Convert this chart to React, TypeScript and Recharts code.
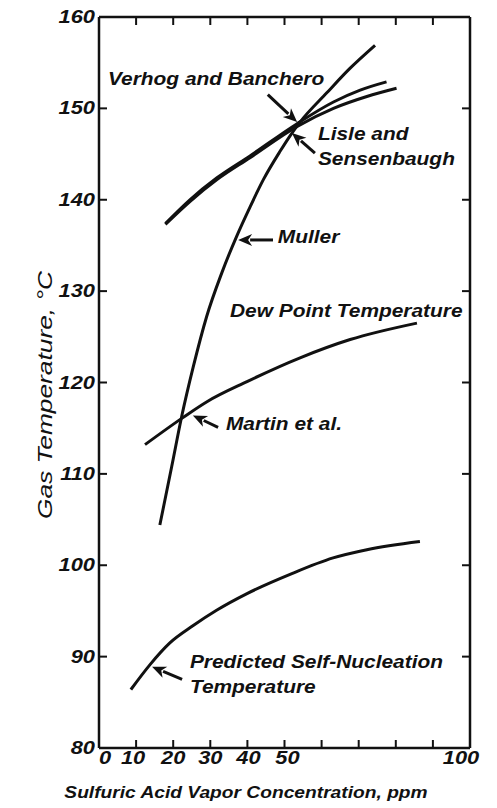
import { LineChart, Line, XAxis, YAxis, ReferenceLine, ReferenceDot } from 'recharts';

// curve points: x = ppm, y = deg C
const selfNucleation = [
  { x: 8.6, y: 86.4 }, { x: 13.7, y: 89.1 }, { x: 19.1, y: 91.5 }, { x: 25.4, y: 93.4 },
  { x: 31.8, y: 95.1 }, { x: 39.9, y: 96.9 }, { x: 51.5, y: 99.0 }, { x: 63.1, y: 100.8 },
  { x: 72.2, y: 101.7 }, { x: 86.5, y: 102.6 },
];
const dewPoint = [
  { x: 12.4, y: 113.2 }, { x: 22.4, y: 116.1 }, { x: 29.1, y: 117.9 }, { x: 39.9, y: 120.1 },
  { x: 54.2, y: 122.7 }, { x: 67.7, y: 124.7 }, { x: 85.7, y: 126.5 },
];
const muller = [
  { x: 16.4, y: 104.4 }, { x: 19.6, y: 110.8 }, { x: 22.3, y: 116.3 }, { x: 25.4, y: 121.7 },
  { x: 29.0, y: 127.2 }, { x: 33.1, y: 132.0 }, { x: 37.1, y: 136.0 }, { x: 40.7, y: 139.2 },
  { x: 44.3, y: 142.2 }, { x: 48.8, y: 145.3 }, { x: 51.5, y: 147.0 }, { x: 54.2, y: 148.5 },
  { x: 61.4, y: 151.7 }, { x: 67.7, y: 154.4 }, { x: 74.4, y: 156.9 },
];
const verhog = [
  { x: 17.9, y: 137.4 }, { x: 24.5, y: 140.0 }, { x: 31.8, y: 142.4 }, { x: 40.7, y: 144.8 },
  { x: 53.3, y: 148.3 }, { x: 63.2, y: 150.7 }, { x: 70.4, y: 152.0 }, { x: 77.5, y: 152.9 },
];
const lisle = [
  { x: 17.9, y: 137.3 }, { x: 24.5, y: 139.8 }, { x: 31.8, y: 142.2 }, { x: 40.7, y: 144.6 },
  { x: 53.3, y: 148.0 }, { x: 63.2, y: 150.0 }, { x: 72.2, y: 151.3 }, { x: 80.2, y: 152.2 },
];

const xTicks = [0, 10, 20, 30, 40, 50, 60, 70, 80, 90, 100];
const xLabels = ['0', '10', '20', '30', '40', '50', '', '', '', '', '100'];
const yTicks = [80, 90, 100, 110, 120, 130, 140, 150, 160];

// arrows: tail -> head, in data units
const arrows = [
  { x1: 45.5, y1: 151.5, x2: 53.4, y2: 148.5 },
  { x1: 58.2, y1: 145.1, x2: 52.0, y2: 147.3 },
  { x1: 46.9, y1: 135.6, x2: 37.5, y2: 135.6 },
  { x1: 32.1, y1: 115.1, x2: 25.3, y2: 116.4 },
  { x1: 22.4, y1: 87.5, x2: 14.3, y2: 88.9 },
];

const notes = [
  { x: 2.4, y: 152.6, lines: ['Verhog and Banchero'] },
  { x: 59.0, y: 146.5, lines: ['Lisle and', 'Sensenbaugh'] },
  { x: 48.2, y: 135.3, lines: ['Muller'] },
  { x: 35.3, y: 127.2, lines: ['Dew Point Temperature'] },
  { x: 34.2, y: 114.8, lines: ['Martin et al.'] },
  { x: 24.5, y: 88.8, lines: ['Predicted Self-Nucleation', 'Temperature'] },
];

const FONT = '"Liberation Sans", Arial, sans-serif';
const INK = '#111';
// small nudges so the hand-set tick numbers sit where the scan has them
const labelShift: Record<string, number> = { '0': 6, '10': -3, '40': 1, '50': 3, '100': -9 };

const BottomTick = ({ x, y, index }: any) => {
  const s = xLabels[index];
  const cx = x + (labelShift[s] || 0);
  return (
    <g transform={`translate(${cx},${y + 16}) scale(1.15,1)`}>
      <text x={0} y={0} textAnchor="middle" fontFamily={FONT} fontWeight="bold"
        fontStyle="italic" fontSize={19} fill={INK}>{s}</text>
    </g>
  );
};

const LeftTick = ({ x, y, payload }: any) => (
  <g transform={`translate(${x - 4},${y + 6}) scale(1.15,1)`}>
    <text x={0} y={0} textAnchor="end" fontFamily={FONT} fontWeight="bold"
      fontStyle="italic" fontSize={19} fill={INK}>{payload.value}</text>
  </g>
);

// short inward tick marks on both ends of a vertical / horizontal guide
const XTickMarks = ({ x1, y1, y2 }: any) => {
  const top = Math.min(y1, y2);
  const bot = Math.max(y1, y2);
  return (
    <g>
      <line x1={x1} y1={top} x2={x1} y2={top + 8} stroke={INK} strokeWidth={2} />
      <line x1={x1} y1={bot} x2={x1} y2={bot - 8} stroke={INK} strokeWidth={2} />
    </g>
  );
};

const YTickMarks = ({ x1, x2, y1 }: any) => {
  const l = Math.min(x1, x2);
  const r = Math.max(x1, x2);
  return (
    <g>
      <line x1={l} y1={y1} x2={l + 8} y2={y1} stroke={INK} strokeWidth={2} />
      <line x1={r} y1={y1} x2={r - 8} y2={y1} stroke={INK} strokeWidth={2} />
    </g>
  );
};

const Arrow = ({ x1, y1, x2, y2 }: any) => {
  const ang = Math.atan2(y2 - y1, x2 - x1);
  const len = 14;
  const w = 6;
  const bx = x2 - len * Math.cos(ang);
  const by = y2 - len * Math.sin(ang);
  const px = -Math.sin(ang) * w;
  const py = Math.cos(ang) * w;
  return (
    <g>
      <line x1={x1} y1={y1} x2={bx + 2 * Math.cos(ang)} y2={by + 2 * Math.sin(ang)} stroke={INK} strokeWidth={3} />
      <polygon points={`${x2},${y2} ${bx + px},${by + py} ${bx + 4 * Math.cos(ang)},${by + 4 * Math.sin(ang)} ${bx - px},${by - py}`} fill={INK} />
    </g>
  );
};

const Note = (lines: string[]) => ({ cx, cy }: any) => (
  <g transform={`translate(${cx},${cy}) scale(1.1,1)`}>
    <text x={0} y={0} fontFamily={FONT} fontWeight="bold" fontStyle="italic" fontSize={19} fill={INK}>
      {lines.map((l, i) => (
        <tspan key={i} x={0} dy={i === 0 ? 0 : 25}>{l}</tspan>
      ))}
    </text>
  </g>
);

const lineProps = {
  type: 'monotone' as const,
  dataKey: 'y',
  stroke: INK,
  strokeWidth: 3,
  dot: false,
  isAnimationActive: false,
};

export default function App() {
  return (
    <div style={{ position: 'absolute', left: 0, top: 0, background: '#fff' }}>
      <LineChart width={497} height={808} margin={{ top: 17, right: 27, bottom: 0, left: 0 }}>
        <XAxis
          dataKey="x"
          type="number"
          domain={[0, 100]}
          ticks={xTicks}
          allowDataOverflow
          height={60}
          tickSize={0}
          tickMargin={0}
          tickLine={false}
          axisLine={{ stroke: INK, strokeWidth: 2.5 }}
          tick={<BottomTick />}
          label={{
            content: () => (
              <g transform="translate(246,798) scale(1.13,1)">
                <text x={0} y={0} textAnchor="middle" fontFamily={FONT} fontWeight="bold"
                  fontStyle="italic" fontSize={17} fill={INK}>
                  Sulfuric Acid Vapor Concentration, ppm
                </text>
              </g>
            ),
          }}
        />
        <YAxis
          type="number"
          domain={[80, 160]}
          ticks={yTicks}
          allowDataOverflow
          width={99}
          tickSize={0}
          tickMargin={0}
          tickLine={false}
          axisLine={{ stroke: INK, strokeWidth: 2.5 }}
          tick={<LeftTick />}
          label={{
            content: () => (
              <text x={52} y={395} textAnchor="middle" transform="rotate(-90 52 395)"
                textLength={248} lengthAdjust="spacingAndGlyphs"
                fontFamily={FONT} fontStyle="italic" fontSize={20} fill={INK}>
                Gas Temperature, °C
              </text>
            ),
          }}
        />
        <ReferenceLine x={100} stroke={INK} strokeWidth={2.5} />
        <ReferenceLine y={160} stroke={INK} strokeWidth={2.5} />
        {xTicks.map((t) => (
          <ReferenceLine key={`xt-${t}`} x={t} shape={XTickMarks} />
        ))}
        {yTicks.map((t) => (
          <ReferenceLine key={`yt-${t}`} y={t} shape={YTickMarks} />
        ))}
        <Line data={selfNucleation} name="Predicted Self-Nucleation Temperature" {...lineProps} />
        <Line data={dewPoint} name="Dew Point Temperature" {...lineProps} />
        <Line data={muller} name="Muller" {...lineProps} />
        <Line data={verhog} name="Verhog and Banchero" {...lineProps} />
        <Line data={lisle} name="Lisle and Sensenbaugh" {...lineProps} />
        {arrows.map((a, i) => (
          <ReferenceLine key={`arrow-${i}`} segment={[{ x: a.x1, y: a.y1 }, { x: a.x2, y: a.y2 }]}
            shape={Arrow} ifOverflow="visible" />
        ))}
        {notes.map((n, i) => (
          <ReferenceDot key={`note-${i}`} x={n.x} y={n.y} r={0} shape={Note(n.lines)} ifOverflow="visible" />
        ))}
      </LineChart>
    </div>
  );
}
